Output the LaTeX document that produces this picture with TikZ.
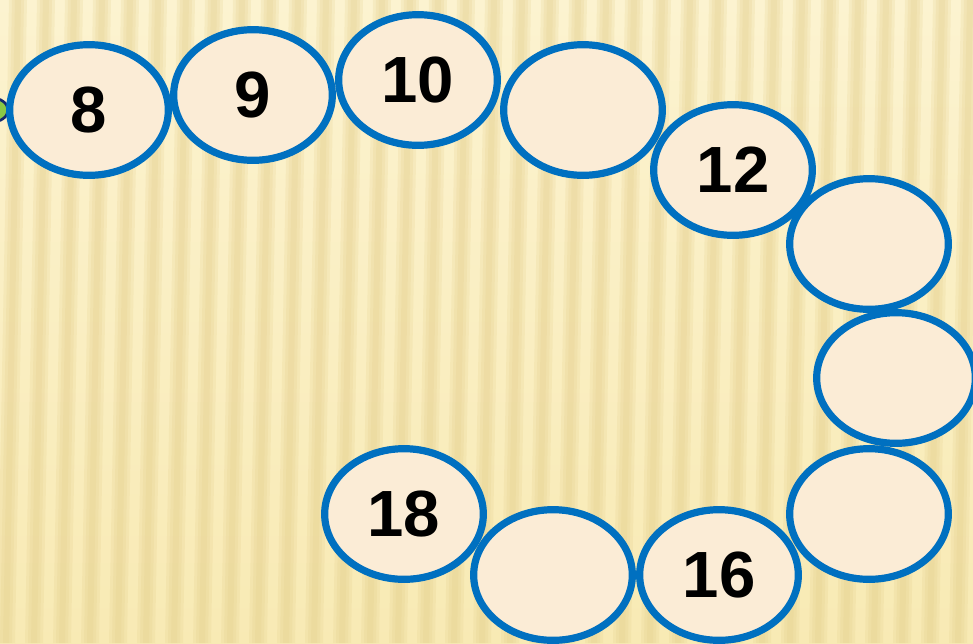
\documentclass[tikz,border=0pt]{standalone}
\usepackage{fontspec}
\setmainfont{Liberation Sans}
\usetikzlibrary{shapes.geometric}
\definecolor{Bline}{RGB}{0,112,192}
\definecolor{Efill}{RGB}{251,236,214}
\definecolor{Btop}{RGB}{252,243,208}
\definecolor{Bbot}{RGB}{248,234,180}
\definecolor{Stripe}{RGB}{226,204,136}
\definecolor{Hgreen}{RGB}{140,200,70}
\definecolor{Hnavy}{RGB}{20,40,110}

\tikzset{
  seg/.style={ellipse,draw=Bline,line width=5.4pt,fill=Efill,inner sep=0pt,
    minimum width=119pt,minimum height=98pt,
    font=\bfseries\fontsize{49}{50}\selectfont},
  band/.style={Stripe,opacity=0.2},
}

\begin{document}
\begin{tikzpicture}[x=0.75pt,y=-0.75pt,line cap=round]
\clip (0,0) rectangle (973,643);
% background with soft stripes
\shade[top color=Btop,bottom color=Bbot] (0,0) rectangle (973,643);
\foreach \i in {0,...,34}
  \foreach \w in {9,6,3}
    \fill[band] (\i*28+18-\w,0) -- (\i*28+18+\w,0) -- (\i*28+6+\w,643) -- (\i*28+6-\w,643) -- cycle;
% head of the caterpillar, cut at the left edge
\node[ellipse,draw=Hnavy,line width=2pt,fill=Hgreen,minimum width=24pt,minimum height=18pt] (head) at (-8,110) {};
% body
\node[seg] (s8)  at (896,378) {};
\node[seg] (s7)  at (869,244) {};
\node[seg] (s9)  at (869,514) {};
\node[seg] (s6)  at (733,170) {12};
\node[seg] (s10) at (719,575) {16};
\node[seg] (s11) at (553,575) {};
\node[seg] (s12) at (404,514) {18};
\node[seg] (s5)  at (583,110) {};
\node[seg] (s4)  at (418,80) {10};
\node[seg] (s3)  at (253,95) {9};
\node[seg] (s2)  at (89,110) {8};
\end{tikzpicture}
\end{document}
